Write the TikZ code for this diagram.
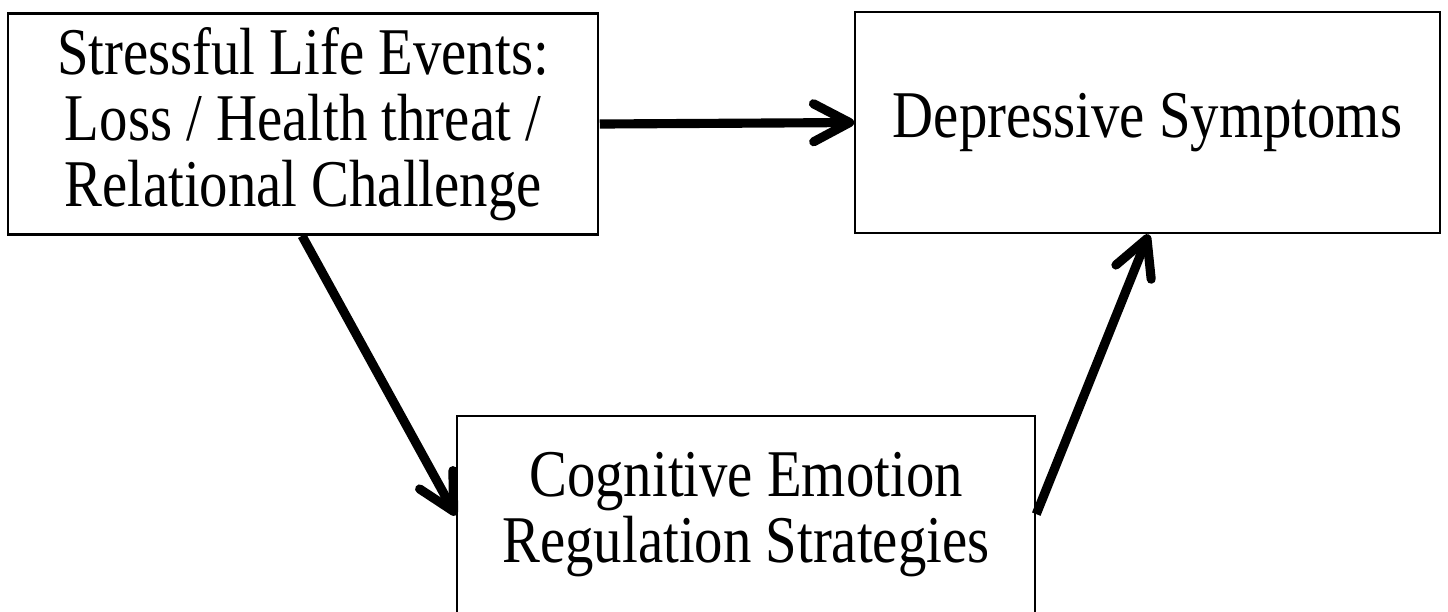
\documentclass[tikz,border=0pt]{standalone}
\usepackage{fontspec}
\setmainfont{Liberation Serif}[FakeStretch=0.85]
\usetikzlibrary{arrows.meta}

\begin{document}
\begin{tikzpicture}[scale=0.1]
            \tikzstyle{every node}+=[inner sep=0pt, font=\fontsize{19}{18.8}\selectfont]
            \tikzstyle{box}=[draw=black, line width=0.7pt, rectangle, align=center]
            \tikzstyle{link}=[black, line width=2.6pt, -{Straight Barb[length=3.6mm, width=3.8mm, line cap=round, line join=round]}]
            \useasboundingbox (0,0) rectangle (144.8,-61.1);
            \node [box, minimum width=5.9cm, minimum height=2.21cm] (sle) at (30.3,-12.4) {Stressful Life Events:\\Loss / Health threat /\\Relational Challenge};
            \node [box, minimum width=5.85cm, minimum height=2.21cm] (dep) at (114.75,-12.25) {Depressive Symptoms};
            \node [box, minimum width=5.78cm, minimum height=1.98cm] (cer) at (74.6,-51.5) {Cognitive Emotion\\Regulation Strategies};
            \draw [link] ([xshift=0.5mm]sle.east) -- ([xshift=0.3mm]dep.west);
            \draw [link] ([xshift=-1mm]sle.south) -- ([yshift=-0.3mm]cer.west);
            \draw [link] ([yshift=0.9mm]cer.east) -- ([xshift=1.1mm,yshift=-0.2mm]dep.south);
\end{tikzpicture}
\end{document}
